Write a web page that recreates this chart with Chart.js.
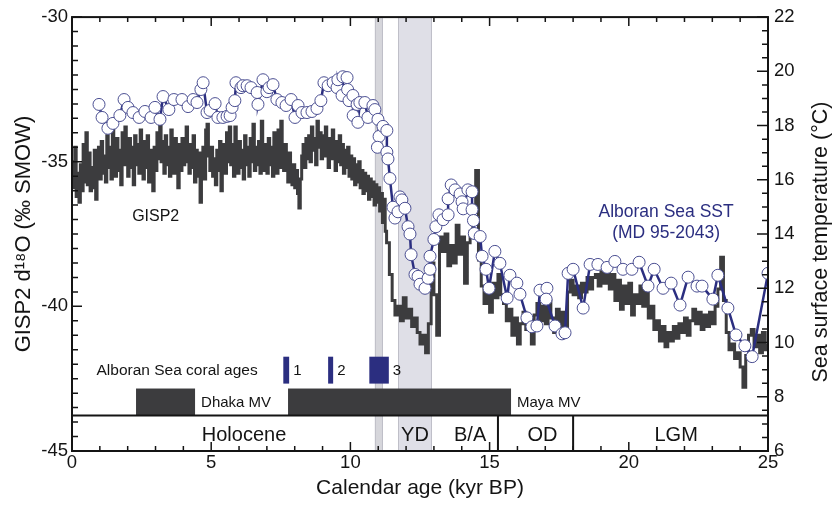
<!DOCTYPE html>
<html>
<head>
<meta charset="utf-8">
<script src="https://cdn.jsdelivr.net/npm/chart.js@4.4.1/dist/chart.umd.min.js"></script>
<style>
html, body { margin: 0; padding: 0; background: #fff; }
#wrap { width: 835px; height: 508px; }
</style>
</head>
<body>
<div id="wrap"><canvas id="chart" width="835" height="508"></canvas></div>
<script>
// GISP2 d18O (per mil) against calendar age (kyr BP)
const gispAge = [
  0,0.05,0.1,0.15,0.2,0.25,0.3,0.35,0.4,0.45,0.5,0.55,0.6,0.65,0.7,0.75,0.8,0.85,0.9,0.95,
  1,1.05,1.1,1.15,1.2,1.25,1.3,1.35,1.4,1.45,1.5,1.55,1.6,1.65,1.7,1.75,1.8,1.85,1.9,1.95,
  2,2.05,2.1,2.15,2.2,2.25,2.3,2.35,2.4,2.45,2.5,2.55,2.6,2.65,2.7,2.75,2.8,2.85,2.9,2.95,
  3,3.05,3.1,3.15,3.2,3.25,3.3,3.35,3.4,3.45,3.5,3.55,3.6,3.65,3.7,3.75,3.8,3.85,3.9,3.95,
  4,4.05,4.1,4.15,4.2,4.25,4.3,4.35,4.4,4.45,4.5,4.55,4.6,4.65,4.7,4.75,4.8,4.85,4.9,4.95,
  5,5.05,5.1,5.15,5.2,5.25,5.3,5.35,5.4,5.45,5.5,5.55,5.6,5.65,5.7,5.75,5.8,5.85,5.9,5.95,
  6,6.05,6.1,6.15,6.2,6.25,6.3,6.35,6.4,6.45,6.5,6.55,6.6,6.65,6.7,6.75,6.8,6.85,6.9,6.95,
  7,7.05,7.1,7.15,7.2,7.25,7.3,7.35,7.4,7.45,7.5,7.55,7.6,7.65,7.7,7.75,7.8,7.85,7.9,7.95,
  8,8.05,8.1,8.15,8.2,8.25,8.3,8.35,8.4,8.45,8.5,8.55,8.6,8.65,8.7,8.75,8.8,8.85,8.9,8.95,
  9,9.05,9.1,9.15,9.2,9.25,9.3,9.35,9.4,9.45,9.5,9.55,9.6,9.65,9.7,9.75,9.8,9.85,9.9,9.95,
  10,10.05,10.1,10.15,10.2,10.25,10.3,10.35,10.4,10.45,10.5,10.55,10.6,10.65,10.7,10.75,10.8,10.85,10.9,10.95,
  11,11.05,11.1,11.15,11.2,11.25,
  11.3,11.4,11.5,11.6,11.7,11.8,11.9,12,12.1,12.2,
  12.3,12.4,12.5,12.6,12.7,12.8,12.9,13,13.1,13.2,
  13.3,13.4,13.5,13.6,13.7,13.8,13.9,14,14.1,14.2,
  14.3,14.4,14.5,14.6,14.7,14.8,14.9,15,15.1,15.2,
  15.3,15.4,15.5,15.6,15.7,15.8,15.9,16,16.1,16.2,
  16.3,16.4,16.5,16.6,16.7,16.8,16.9,17,17.1,17.2,
  17.3,17.4,17.5,17.6,17.7,17.8,17.9,18,18.1,18.2,
  18.3,18.4,18.5,18.6,18.7,18.8,18.9,19,19.1,19.2,
  19.3,19.4,19.5,19.6,19.7,19.8,19.9,20,20.1,20.2,
  20.3,20.4,20.5,20.6,20.7,20.8,20.9,21,21.1,21.2,
  21.3,21.4,21.5,21.6,21.7,21.8,21.9,22,22.1,22.2,
  22.3,22.4,22.5,22.6,22.7,22.8,22.9,23,23.1,23.2,
  23.3,23.4,23.5,23.6,23.7,23.8,23.9,24,24.1,24.2,
  24.3,24.4,24.5,24.6,24.7,24.8,24.9,25
];
const gispD18O = [
  -35.0,-35.9,-34.5,-36.2,-35.4,-36.4,-35.1,-36.0,-34.4,-35.7,-34.0,-35.8,-34.7,-36.0,-35.2,-35.9,-34.6,-36.3,-35.3,-34.5,
  -35.6,-34.3,-35.4,-34.8,-35.7,-34.1,-35.2,-34.5,-35.6,-33.9,-34.9,-35.5,-34.2,-35.3,-34.6,-35.8,-34.0,-35.1,-33.8,-34.8,
  -35.5,-34.2,-35.2,-34.5,-35.8,-34.1,-35.1,-34.4,-35.4,-33.9,-34.8,-35.6,-34.3,-35.2,-34.1,-35.7,-34.6,-35.3,-36.0,-34.5,
  -35.3,-34.0,-34.9,-33.6,-35.0,-34.3,-35.4,-34.1,-35.1,-34.5,-35.5,-33.9,-34.9,-35.4,-34.2,-35.2,-35.9,-34.4,-35.3,-34.2,
  -35.1,-34.3,-33.8,-35.0,-35.4,-34.4,-35.2,-34.1,-35.7,-34.6,-35.5,-34.7,-36.4,-35.2,-34.5,-35.6,-33.9,-33.7,-34.8,-35.3,
  -34.5,-35.5,-34.9,-35.8,-34.6,-35.3,-34.3,-36.0,-35.1,-34.4,-35.4,-34.0,-35.0,-33.8,-35.1,-34.4,-35.5,-33.8,-34.8,-35.4,
  -34.3,-35.2,-34.6,-35.6,-34.1,-35.1,-34.5,-35.5,-34.2,-35.0,-33.7,-35.3,-34.5,-35.1,-34.3,-35.4,-33.6,-34.8,-35.3,-34.4,
  -35.4,-34.2,-35.1,-34.5,-35.5,-34.0,-35.0,-35.4,-33.9,-35.2,-33.6,-34.7,-35.3,-34.4,-35.1,-35.7,-34.7,-35.4,-35.8,-35.1,
  -35.9,-35.3,-36.1,-36.6,-35.6,-34.8,-34.4,-35.2,-34.2,-34.9,-34.1,-35.0,-33.8,-34.6,-34.2,-35.1,-33.6,-34.5,-34.0,-34.9,
  -34.1,-34.8,-33.8,-34.5,-35.2,-34.2,-34.9,-33.9,-34.6,-35.3,-34.3,-35.0,-34.1,-35.1,-34.4,-35.4,-34.6,-35.2,-34.5,-35.5,
  -34.8,-35.6,-34.9,-35.8,-35.1,-35.7,-35.0,-35.9,-35.3,-36.1,-35.4,-36.0,-35.5,-36.3,-35.6,-36.2,-35.7,-36.5,-35.8,-36.4,
  -35.9,-36.7,-36.1,-37.1,-36.3,-37.4,
  -37.8,-38.9,-39.8,-40.3,-40.0,-40.5,-39.7,-40.4,-40.1,-40.7,
  -40.4,-40.9,-41.3,-41.0,-41.6,-40.6,-38.5,-39.6,-41.0,-37.6,
  -38.1,-37.5,-38.6,-37.9,-38.5,-37.2,-38.2,-37.6,-39.2,-37.8,
  -37.4,-36.6,-35.3,-38.4,-39.3,-39.9,-39.4,-40.2,-39.2,-39.7,
  -38.9,-39.6,-39.9,-40.5,-40.1,-41.0,-40.4,-41.3,-40.6,-40.2,
  -40.8,-40.4,-41.3,-40.3,-39.9,-40.5,-40.0,-40.6,-39.8,-40.4,
  -40.9,-40.1,-40.7,-40.2,-40.8,-39.5,-39.1,-39.6,-39.3,-39.7,
  -39.2,-39.5,-39.0,-39.4,-39.0,-38.9,-39.3,-38.8,-39.2,-38.6,
  -39.4,-38.9,-39.8,-39.1,-40.1,-39.3,-39.9,-39.2,-40.3,-39.6,
  -39.9,-39.3,-40.0,-39.5,-40.4,-40.0,-40.8,-40.5,-41.2,-40.7,
  -41.4,-40.9,-41.2,-40.7,-41.1,-40.6,-40.9,-40.4,-41.0,-40.5,
  -40.1,-40.6,-40.2,-40.8,-40.3,-40.7,-40.2,-40.6,-40.0,-39.4,
  -38.3,-39.8,-40.9,-41.5,-41.3,-41.8,-41.6,-42.1,-42.8,-41.7,
  -41.0,-40.8,-41.4,-41.0,-41.6,-40.9,-41.5,-41.3
];

// Alboran Sea SST, core MD 95-2043 (deg C)
const sstAge = [
  0.97,1.08,1.29,1.47,1.72,1.87,2.01,2.19,2.41,2.62,2.84,2.98,3.16,3.27,3.48,3.66,3.95,4.17,4.35,4.49,
  4.63,4.71,4.85,4.96,5.14,5.24,5.42,5.57,5.68,5.75,5.85,5.89,6.07,6.14,6.29,6.43,6.65,6.68,6.86,7.00,
  7.08,7.22,7.36,7.54,7.69,7.87,8.01,8.12,8.26,8.44,8.62,8.80,8.94,9.05,9.20,9.38,9.52,9.55,9.70,9.73,
  9.88,9.90,9.95,10.09,10.10,10.24,10.27,10.34,10.52,10.63,10.81,10.88,10.99,11.03,10.97,11.17,11.31,11.31,11.35,11.42,
  11.53,11.60,11.71,11.78,11.85,11.96,12.07,12.14,12.18,12.32,12.43,12.50,12.68,12.79,12.86,12.86,13.00,13.07,13.18,13.33,
  13.51,13.51,13.62,13.76,13.94,14.01,14.05,14.22,14.37,14.37,14.42,14.45,14.66,14.73,14.87,14.98,15.19,15.37,15.63,15.73,
  15.98,16.09,16.34,16.52,16.70,16.81,17.06,17.03,17.35,17.60,17.71,17.82,18.00,18.36,18.61,18.89,19.22,19.50,19.79,20.11,
  20.37,20.69,20.91,21.23,21.52,21.84,22.13,22.45,22.63,23.02,23.20,23.56,23.85,24.17,24.43,25.00
];
const sstTemp = [
  18.78,18.30,17.90,18.08,18.37,18.96,18.67,18.48,18.30,18.52,18.30,18.67,18.23,19.07,18.59,18.96,18.96,18.70,18.96,18.85,
  19.33,19.58,18.48,18.56,18.81,18.30,18.30,18.34,18.37,18.67,18.92,19.58,19.40,19.47,19.47,19.40,19.22,18.78,19.69,19.25,
  19.40,19.51,18.96,18.85,18.74,18.96,18.30,18.74,18.48,18.48,18.52,18.63,18.92,19.58,19.47,19.58,19.40,19.69,19.11,19.80,
  19.77,19.33,18.92,19.11,18.37,18.78,18.12,18.85,18.85,18.30,18.74,18.59,18.23,17.60,17.20,17.97,17.82,17.02,16.77,16.05,
  14.99,14.59,14.82,15.37,15.26,14.95,14.27,14.00,13.24,12.51,12.44,12.15,12.00,12.37,12.70,13.18,13.80,14.27,14.71,14.53,
  14.71,15.30,15.81,15.63,15.48,15.19,14.93,15.63,15.56,14.90,14.50,14.02,13.91,13.18,12.70,12.00,13.36,12.92,11.64,12.48,
  12.19,11.78,10.91,10.58,10.61,11.93,12.00,11.60,10.61,10.32,10.36,12.55,12.70,11.27,12.88,12.88,12.77,12.99,12.70,12.70,
  12.96,12.08,12.70,12.00,12.19,11.38,12.41,12.08,12.08,11.60,12.48,11.27,10.28,9.88,9.48,12.55
];

// shaded cold events (kyr BP)
const coldBands = [[10.88, 11.17], [11.71, 12.93]];
// mud volcano activity (kyr BP)
const mudVolcano = [[2.3, 4.42], [7.76, 15.77]];
const mudVolcanoNames = ['Dhaka MV', 'Maya MV'];
// Alboran Sea coral ages (kyr BP)
const coralAges = [[7.59, 7.80], [9.20, 9.38], [10.68, 11.38]];
const coralNames = ['1', '2', '3'];
// climate periods
const periodBounds = [15.3, 18.0];
const periodNames = ['Holocene', 'YD', 'B/A', 'OD', 'LGM'];
const periodCentres = [6.18, 12.32, 14.3, 16.9, 21.7];

const ink = '#141414';
const navy = '#2b2e80';
const dark = '#3c3c3e';
const fontFam = '"Liberation Sans", Arial, Helvetica, sans-serif';

Chart.defaults.font.family = fontFam;
Chart.defaults.color = ink;

const decor = {
  id: 'decor',
  beforeDatasetsDraw(chart) {
    const {ctx, chartArea: a, scales: {x}} = chart;
    ctx.save();
    coldBands.forEach((b, i) => {
      const x0 = x.getPixelForValue(b[0]);
      const x1 = x.getPixelForValue(b[1]);
      ctx.fillStyle = i === 0 ? '#d6d6db' : '#dfdfe7';
      ctx.fillRect(x0, a.top, x1 - x0, a.bottom - a.top);
      ctx.strokeStyle = '#bfbfc8';
      ctx.lineWidth = 1;
      ctx.beginPath();
      ctx.moveTo(x0 + 0.5, a.top); ctx.lineTo(x0 + 0.5, a.bottom);
      ctx.moveTo(x1 - 0.5, a.top); ctx.lineTo(x1 - 0.5, a.bottom);
      ctx.stroke();
    });
    ctx.restore();
  },
  afterDatasetsDraw(chart) {
    const {ctx, chartArea: a, scales: {x, y}} = chart;
    ctx.save();

    // mud volcano bars
    const mvTop = y.getPixelForValue(-42.84);
    const baseY = y.getPixelForValue(-43.77);
    ctx.fillStyle = dark;
    mudVolcano.forEach(b => {
      const x0 = x.getPixelForValue(b[0]);
      const x1 = x.getPixelForValue(b[1]);
      ctx.fillRect(x0, mvTop, x1 - x0, baseY - mvTop);
    });
    ctx.font = '15px ' + fontFam;
    ctx.fillStyle = ink;
    ctx.textBaseline = 'middle';
    ctx.textAlign = 'left';
    const mvTextY = y.getPixelForValue(-43.35);
    mudVolcanoNames.forEach((n, i) => {
      ctx.fillText(n, x.getPixelForValue(mudVolcano[i][1]) + 6, mvTextY);
    });

    // coral age bars
    const cTop = y.getPixelForValue(-41.74);
    const cBot = y.getPixelForValue(-42.67);
    ctx.fillStyle = navy;
    coralAges.forEach(b => {
      const x0 = x.getPixelForValue(b[0]);
      const x1 = x.getPixelForValue(b[1]);
      ctx.fillRect(x0, cTop, x1 - x0, cBot - cTop);
    });
    ctx.fillStyle = ink;
    const cTextY = y.getPixelForValue(-42.22);
    coralNames.forEach((n, i) => {
      ctx.fillText(n, x.getPixelForValue(coralAges[i][1]) + 4, cTextY);
    });
    ctx.font = '15.5px ' + fontFam;
    ctx.fillText('Alboran Sea coral ages', x.getPixelForValue(0.88), cTextY);

    // period strip
    ctx.strokeStyle = ink;
    ctx.lineWidth = 2;
    ctx.beginPath();
    ctx.moveTo(a.left, baseY); ctx.lineTo(a.right, baseY);
    periodBounds.forEach(v => {
      const px = x.getPixelForValue(v);
      ctx.moveTo(px, baseY); ctx.lineTo(px, a.bottom);
    });
    ctx.stroke();
    ctx.font = '20px ' + fontFam;
    ctx.textAlign = 'center';
    const pY = y.getPixelForValue(-44.47);
    periodNames.forEach((n, i) => {
      ctx.fillText(n, x.getPixelForValue(periodCentres[i]), pY);
    });

    // series labels
    ctx.font = '16px ' + fontFam;
    ctx.textAlign = 'left';
    ctx.fillText('GISP2', x.getPixelForValue(2.16), y.getPixelForValue(-36.9));
    ctx.font = '17.5px ' + fontFam;
    ctx.fillStyle = navy;
    ctx.textAlign = 'center';
    ctx.fillText('Alboran Sea SST', x.getPixelForValue(21.34), y.getPixelForValue(-36.73));
    ctx.fillText('(MD 95-2043)', x.getPixelForValue(21.34), y.getPixelForValue(-37.48));
    ctx.restore();
  },
  afterDraw(chart) {
    const {ctx, chartArea: a, scales: {x, y, y1}} = chart;
    ctx.save();
    ctx.strokeStyle = ink;
    ctx.lineWidth = 1.5;
    ctx.beginPath();
    for (let v = 0; v <= 25; v++) {
      const px = x.getPixelForValue(v);
      const len = v % 5 === 0 ? 9 : 5;
      ctx.moveTo(px, a.bottom); ctx.lineTo(px, a.bottom - len);
      ctx.moveTo(px, a.top); ctx.lineTo(px, a.top + len);
    }
    for (let i = 0; i <= 30; i++) {
      const py = y.getPixelForValue(-45 + i * 0.5);
      const len = i % 10 === 0 ? 10 : 6;
      ctx.moveTo(a.left, py); ctx.lineTo(a.left + len, py);
    }
    for (let i = 0; i <= 32; i++) {
      const py = y1.getPixelForValue(6 + i * 0.5);
      const len = i % 4 === 0 ? 11 : 6;
      ctx.moveTo(a.right, py); ctx.lineTo(a.right - len, py);
    }
    ctx.stroke();
    ctx.lineWidth = 2;
    ctx.strokeRect(a.left, a.top, a.right - a.left, a.bottom - a.top);

    // right axis title, reading upward
    ctx.font = '21.5px ' + fontFam;
    ctx.fillStyle = ink;
    ctx.textAlign = 'center';
    ctx.textBaseline = 'middle';
    ctx.translate(821, (a.top + a.bottom) / 2 + 8);
    ctx.rotate(-Math.PI / 2);
    ctx.fillText('Sea surface temperature (°C)', 0, 0);
    ctx.restore();
  }
};

new Chart(document.getElementById('chart'), {
  type: 'line',
  data: {
    datasets: [{
      label: 'Alboran Sea SST',
      data: sstAge.map((a, i) => ({x: a, y: sstTemp[i]})),
      yAxisID: 'y1',
      borderColor: navy,
      borderWidth: 2.5,
      pointRadius: 6,
      pointBackgroundColor: '#ffffff',
      pointBorderColor: '#4b4f92',
      pointBorderWidth: 1,
      order: 0
    }, {
      label: 'GISP2',
      data: gispAge.map((a, i) => ({x: a, y: gispD18O[i]})),
      yAxisID: 'y',
      borderColor: dark,
      borderWidth: 3,
      pointRadius: 0,
      stepped: true,
      order: 1
    }]
  },
  options: {
    responsive: false,
    animation: false,
    layout: {padding: {top: 14, left: 0, right: 0, bottom: 0}},
    plugins: {legend: {display: false}, tooltip: {enabled: false}},
    scales: {
      x: {
        type: 'linear', min: 0, max: 25,
        ticks: {stepSize: 5, padding: 1, font: {size: 18.5}, color: ink},
        grid: {display: false, drawTicks: false},
        border: {display: false},
        title: {display: true, text: 'Calendar age (kyr BP)', font: {size: 21, lineHeight: 1.2}, padding: {top: 0, bottom: 7}, color: ink},
        afterFit: s => { s.height = 57; }
      },
      y: {
        position: 'left', min: -45, max: -30,
        ticks: {stepSize: 5, padding: 4, font: {size: 18.5}, color: ink},
        grid: {display: false, drawTicks: false},
        border: {display: false},
        title: {display: true, text: 'GISP2 d¹⁸O (‰ SMOW)', font: {size: 22, lineHeight: 1.2}, padding: {top: 11, bottom: 0}, color: ink},
        afterFit: s => { s.width = 72; }
      },
      y1: {
        position: 'right', min: 6, max: 22,
        ticks: {stepSize: 2, padding: 6, font: {size: 18.5}, color: ink},
        grid: {display: false, drawTicks: false},
        border: {display: false},
        afterFit: s => { s.width = 67; }
      }
    }
  },
  plugins: [decor]
});
</script>
</body>
</html>
